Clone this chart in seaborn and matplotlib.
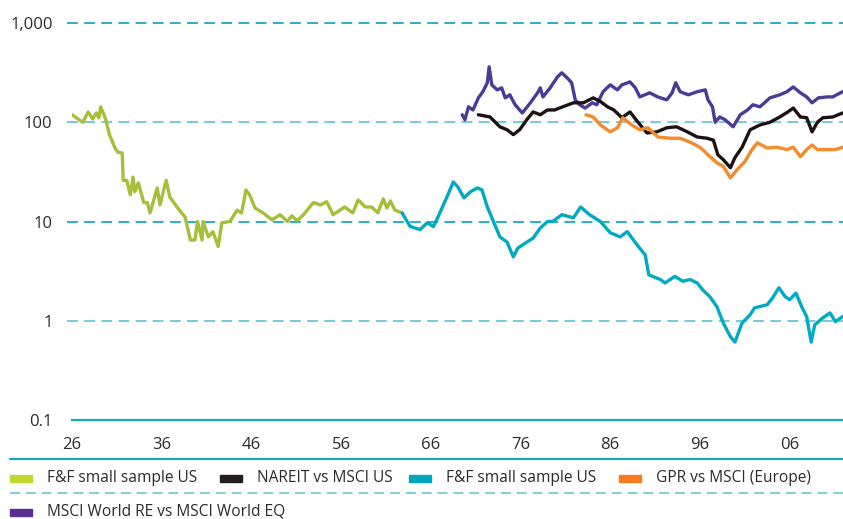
import pandas as pd
import matplotlib.pyplot as plt
import matplotlib.patches as mpatches
from matplotlib.lines import Line2D
import seaborn as sns

# Datos (anio, indice relativo)
ff_early_years = [1926.0, 1927.2, 1927.8, 1928.3, 1928.7, 1929.0, 1929.2, 1929.7, 1930.2, 1930.8,
                  1931.1, 1931.6, 1931.7, 1932.1, 1932.5, 1932.8, 1933.0, 1933.4, 1934.0, 1934.4,
                  1934.7, 1935.5, 1935.8, 1936.5, 1936.9, 1937.7, 1938.6, 1939.2, 1939.7, 1940.0,
                  1940.5, 1940.6, 1941.2, 1941.7, 1942.3, 1942.7, 1943.6, 1944.4, 1944.9, 1945.4,
                  1945.8, 1946.4, 1947.3, 1948.3, 1949.2, 1950.0, 1950.5, 1951.1, 1951.8, 1952.9,
                  1953.7, 1954.4, 1955.1, 1956.4, 1957.3, 1957.9, 1958.7, 1959.4, 1960.1, 1960.7,
                  1961.1, 1961.5, 1962.0, 1962.8]
ff_early_vals = [119, 100, 127, 108, 124, 111, 143, 111, 74, 55,
                 50, 49, 26, 26, 18.6, 28, 20, 24.5, 15.5, 15.5,
                 12.2, 21.8, 14.7, 26, 17.7, 14, 11.1, 6.5, 6.5, 10,
                 6.5, 10, 7, 7.9, 5.6, 9.7, 10, 13, 12.2, 20.8,
                 18.6, 13.7, 12.2, 10.4, 11.7, 10, 11.4, 10.2, 11.7, 15.5,
                 14.7, 15.8, 11.7, 14, 12.2, 16.5, 14, 14, 12.2, 16.9,
                 13.7, 16.1, 13, 12.2]

ff_late_years = [1962.8, 1963.7, 1964.8, 1965.6, 1966.3, 1966.8, 1967.4, 1967.9, 1968.5, 1969.0,
                 1969.7, 1970.4, 1971.2, 1971.7, 1972.3, 1972.9, 1973.7, 1974.5, 1975.2, 1975.7,
                 1976.7, 1977.4, 1978.2, 1979.0, 1979.6, 1980.6, 1981.9, 1982.7, 1983.7, 1984.9,
                 1986.0, 1987.1, 1987.9, 1989.0, 1989.9, 1990.3, 1991.6, 1992.1, 1993.2, 1994.1,
                 1994.9, 1995.7, 1996.3, 1997.1, 1997.9, 1998.6, 1999.4, 1999.9, 2000.7, 2001.6,
                 2002.1, 2003.5, 2004.1, 2004.8, 2005.5, 2006.0, 2006.7, 2007.4, 2007.9, 2008.4,
                 2008.8, 2009.7, 2010.5, 2011.1, 2011.9]
ff_late_vals = [12.2, 8.9, 8.3, 9.7, 8.9, 11.1, 14.7, 18.6, 25, 22.4,
                17.3, 19.9, 21.8, 20.8, 14, 10.4, 7, 6.2, 4.4, 5.4,
                6.2, 6.8, 8.6, 10, 10, 11.7, 10.9, 14, 11.7, 10,
                7.7, 7, 7.9, 5.8, 4.6, 2.9, 2.6, 2.4, 2.8, 2.5,
                2.6, 2.4, 2.05, 1.75, 1.38, 0.95, 0.69, 0.61, 0.95, 1.15,
                1.35, 1.45, 1.7, 2.15, 1.75, 1.63, 1.9, 1.35, 1.1, 0.61,
                0.91, 1.07, 1.2, 0.98, 1.1]

msci_years = [1969.5, 1969.8, 1970.2, 1970.7, 1971.3, 1971.8, 1972.3, 1972.5, 1972.8, 1973.4,
              1973.9, 1974.3, 1974.8, 1975.4, 1976.2, 1977.1, 1977.9, 1978.2, 1978.5, 1979.3,
              1980.1, 1980.6, 1981.2, 1981.7, 1982.1, 1982.6, 1983.2, 1984.0, 1984.5, 1985.2,
              1986.0, 1986.8, 1987.3, 1988.2, 1988.8, 1989.3, 1990.4, 1991.3, 1992.3, 1992.9,
              1993.3, 1993.8, 1994.7, 1995.7, 1996.6, 1996.9, 1997.4, 1997.7, 1998.2, 1998.8,
              1999.7, 2000.5, 2001.3, 2001.9, 2002.7, 2003.8, 2004.9, 2005.7, 2006.4, 2007.2,
              2007.9, 2008.5, 2009.2, 2010.2, 2010.8, 2011.9]
msci_vals = [119, 106, 143, 133, 176, 203, 250, 362, 238, 212,
             222, 176, 189, 150, 124, 157, 198, 222, 180, 222,
             285, 315, 280, 250, 168, 150, 139, 157, 150, 203,
             238, 212, 238, 255, 222, 180, 198, 180, 168, 198,
             250, 203, 189, 203, 212, 168, 143, 100, 113, 106,
             90, 119, 133, 150, 143, 176, 189, 203, 227, 198,
             180, 157, 176, 180, 180, 203]

nareit_years = [1971.3, 1972.6, 1973.7, 1974.5, 1975.2, 1975.9, 1976.7, 1977.4, 1978.2, 1979.0,
                1979.8, 1980.7, 1981.9, 1983.0, 1984.1, 1984.9, 1985.7, 1986.4, 1987.3, 1988.2,
                1989.1, 1990.1, 1991.2, 1992.3, 1993.4, 1994.6, 1995.7, 1996.8, 1997.5, 1998.0,
                1998.6, 1999.4, 1999.9, 2000.7, 2001.6, 2002.7, 2003.8, 2004.9, 2005.8, 2006.4,
                2007.2, 2007.9, 2008.5, 2009.1, 2009.7, 2010.8, 2011.9]
nareit_vals = [119, 113, 90, 84, 75, 84, 106, 127, 119, 133,
               133, 143, 157, 157, 176, 162, 143, 133, 111, 127,
               100, 78, 80, 88, 90, 80, 71, 69, 66, 47,
               42, 34.8, 44, 56, 84, 94, 100, 113, 127, 139,
               113, 111, 80, 100, 111, 113, 124]

gpr_years = [1983.3, 1984.1, 1984.9, 1986.0, 1986.8, 1987.4, 1988.4, 1989.3, 1990.2, 1991.3,
             1992.7, 1993.8, 1994.9, 1996.0, 1996.9, 1997.9, 1998.6, 1999.4, 2000.1, 2001.0,
             2001.8, 2002.4, 2003.5, 2004.6, 2005.7, 2006.4, 2007.2, 2007.9, 2008.5, 2009.1,
             2010.2, 2011.1, 2011.9]
gpr_vals = [119, 113, 94, 80, 88, 111, 94, 84, 88, 71,
            69, 69, 63, 56, 47, 39, 36, 27.5, 33, 40,
            53, 62, 55, 56, 53, 56, 45, 53, 59, 53,
            53, 53, 56]

tick_years = [1926, 1936, 1946, 1956, 1966, 1976, 1986, 1996, 2006]
tick_labels = ['26', '36', '46', '56', '66', '76', '86', '96', '06']
y_ticks = [0.1, 1, 10, 100, 1000]
y_labels = ['0.1', '1', '10', '100', '1,000']

legend_labels = ['F&F small sample US', 'NAREIT vs MSCI US', 'F&F small sample US',
                 'GPR vs MSCI (Europe)', 'MSCI World RE vs MSCI World EQ']

# Tabla larga para seaborn
partes = [('ff_early', ff_early_years, ff_early_vals),
          ('msci', msci_years, msci_vals),
          ('nareit', nareit_years, nareit_vals),
          ('gpr', gpr_years, gpr_vals),
          ('ff_late', ff_late_years, ff_late_vals)]
df = pd.concat([pd.DataFrame({'serie': k, 'anio': a, 'valor': v}) for k, a, v in partes])

colores = {'ff_early': '#a5bf3a', 'nareit': '#1c1211', 'ff_late': '#00abc2',
           'gpr': '#f38a2b', 'msci': '#4a3b97'}
teal = '#1aa8bf'
teal_claro = '#69c8d3'

sns.set_style('white')
plt.rcParams['font.family'] = ['Open Sans', 'DejaVu Sans']

fig = plt.figure(figsize=(8.43, 5.19), dpi=100)
ax = fig.add_axes([72 / 843, 99 / 519, 771 / 843, 397 / 519])

# Lineas de referencia punteadas
for yv, c in zip([1000, 100, 10, 1], [teal, teal_claro, teal, teal_claro]):
    ax.plot([-0.006, 1], [yv, yv], transform=ax.get_yaxis_transform(), color=c,
            lw=1.3, dashes=(6, 3.5), clip_on=False, zorder=1)

sns.lineplot(data=df, x='anio', y='valor', hue='serie', palette=colores,
             estimator=None, sort=False, legend=False, linewidth=2.4, ax=ax)
for ln in ax.get_lines():
    ln.set_solid_joinstyle('round')

ax.set_yscale('log')
ax.set_ylim(0.1, 1000)
ax.set_xlim(1926, 2011.95)
ax.set_yticks(y_ticks)
ax.set_yticklabels(y_labels)
ax.minorticks_off()
ax.set_xticks(tick_years)
ax.set_xticklabels(tick_labels)
ax.tick_params(axis='x', direction='in', length=5, width=1.2, color=teal,
               labelsize=12, labelcolor='#2b2b2b', pad=12)
ax.tick_params(axis='y', length=0, labelsize=12, labelcolor='#2b2b2b', pad=14)
ax.set_xlabel('')
ax.set_ylabel('')
for lado in ['left', 'right', 'top']:
    ax.spines[lado].set_visible(False)
ax.spines['bottom'].set_color(teal)
ax.spines['bottom'].set_linewidth(1.6)

# Leyenda manual bajo el grafico
fig.add_artist(Line2D([10 / 843, 1], [1 - 459 / 519] * 2, color=teal, lw=1.6))
fig.add_artist(Line2D([10 / 843, 1], [1 - 493 / 519] * 2, color=teal_claro, lw=1.2,
                      dashes=(6, 3.5)))
leg_colores = ['#c3d52f', '#231f20', '#00a7bd', '#f47b20', '#5b2e91']
leg_pos = [(10, 478), (220, 478), (409, 478), (619, 478), (10, 512)]
for lab, col, (px, py) in zip(legend_labels, leg_colores, leg_pos):
    fig.add_artist(mpatches.Rectangle((px / 843, 1 - (py + 3.5) / 519), 22 / 843, 7 / 519,
                                      color=col, transform=fig.transFigure))
    fig.text((px + 37) / 843, 1 - py / 519, lab, fontsize=11.2, color='#2b2b2b',
             va='center', ha='left')

plt.savefig('out.png', dpi=100)
